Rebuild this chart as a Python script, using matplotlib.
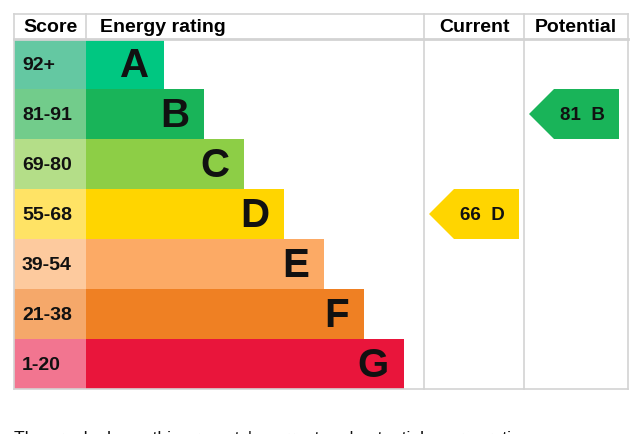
import matplotlib.pyplot as plt
from matplotlib.patches import Polygon

plt.rcParams['font.family'] = ['Liberation Sans', 'DejaVu Sans']

# EPC bands, best to worst
letters = ['A', 'B', 'C', 'D', 'E', 'F', 'G']
scores = ['92+', '81-91', '69-80', '55-68', '39-54', '21-38', '1-20']
band_low = [92, 81, 69, 55, 39, 21, 1]
bar_colors = ['#00c781', '#19b459', '#8dce46', '#ffd500', '#fcaa65', '#ef8023', '#e9153b']
score_colors = ['#64c8a2', '#72cc8b', '#b4de88', '#ffe365', '#fdca9e', '#f5a86a', '#f27590']
current = 66
potential = 81

def band_of(v):
    for i, lo in enumerate(band_low):
        if v >= lo:
            return i
    return len(band_low) - 1

W, H = 640, 434
fig = plt.figure(figsize=(W / 100, H / 100), dpi=100)
ax = fig.add_axes([0, 0, 1, 1])
ax.set_xlim(0, W)
ax.set_ylim(H, 0)
ax.axis('off')

left, score_r, cur_l, pot_l, right = 14, 86, 424, 524, 628
top, head_b, row_h = 14, 39, 50
bottom = head_b + row_h * len(letters)
grid = '#d3d3d3'

# table lines
ax.plot([left, right], [top, top], color=grid, lw=1.2)
ax.plot([left, right], [head_b, head_b], color=grid, lw=2)
ax.plot([left, right], [bottom, bottom], color=grid, lw=1.2)
for x in [left, cur_l, pot_l, right]:
    ax.plot([x, x], [top, bottom], color=grid, lw=1.2)
ax.plot([score_r, score_r], [top, head_b], color=grid, lw=1.2)

# headers
hfs = 14
hy = (top + head_b) / 2 + 1
ax.text((left + score_r) / 2, hy, 'Score', ha='center', va='center', fontsize=hfs, fontweight='bold')
ax.text(100, hy, 'Energy rating', ha='left', va='center', fontsize=hfs, fontweight='bold')
ax.text((cur_l + pot_l) / 2, hy, 'Current', ha='center', va='center', fontsize=hfs, fontweight='bold')
ax.text((pot_l + right) / 2, hy, 'Potential', ha='center', va='center', fontsize=hfs, fontweight='bold')

# bands
ys = [head_b + row_h * (i + 0.5) for i in range(len(letters))]
widths = [78 + 40 * i for i in range(len(letters))]
ax.barh(ys, [score_r - left] * len(letters), left=left, height=row_h, color=score_colors, lw=0)
ax.barh(ys, widths, left=score_r, height=row_h, color=bar_colors, lw=0)
for y, w, s, l in zip(ys, widths, scores, letters):
    ax.text(22, y + 1, s, ha='left', va='center', fontsize=14, fontweight='bold', color='#111111')
    ax.text(score_r + w - 15, y + 2, l, ha='right', va='center', fontsize=29, fontweight='bold', color='#111111')

# arrows
def arrow(value, x0, x1):
    i = band_of(value)
    y0 = head_b + row_h * i
    tip = 25
    pts = [(x0, y0 + row_h / 2), (x0 + tip, y0), (x1, y0), (x1, y0 + row_h), (x0 + tip, y0 + row_h)]
    ax.add_patch(Polygon(pts, closed=True, color=bar_colors[i], lw=0))
    ax.text((x0 + tip + x1) / 2 - 4, y0 + row_h / 2 + 1, f'{value}  {letters[i]}',
            ha='center', va='center', fontsize=13.5, fontweight='bold', color='#111111')

arrow(current, cur_l + 5, pot_l - 5)
arrow(potential, pot_l + 5, right - 9)

ax.text(14, 431, "The graph shows this property's current and potential energy ratings.",
        ha='left', va='top', fontsize=12.5, color='#111111')

fig.savefig('out.png', dpi=100)
